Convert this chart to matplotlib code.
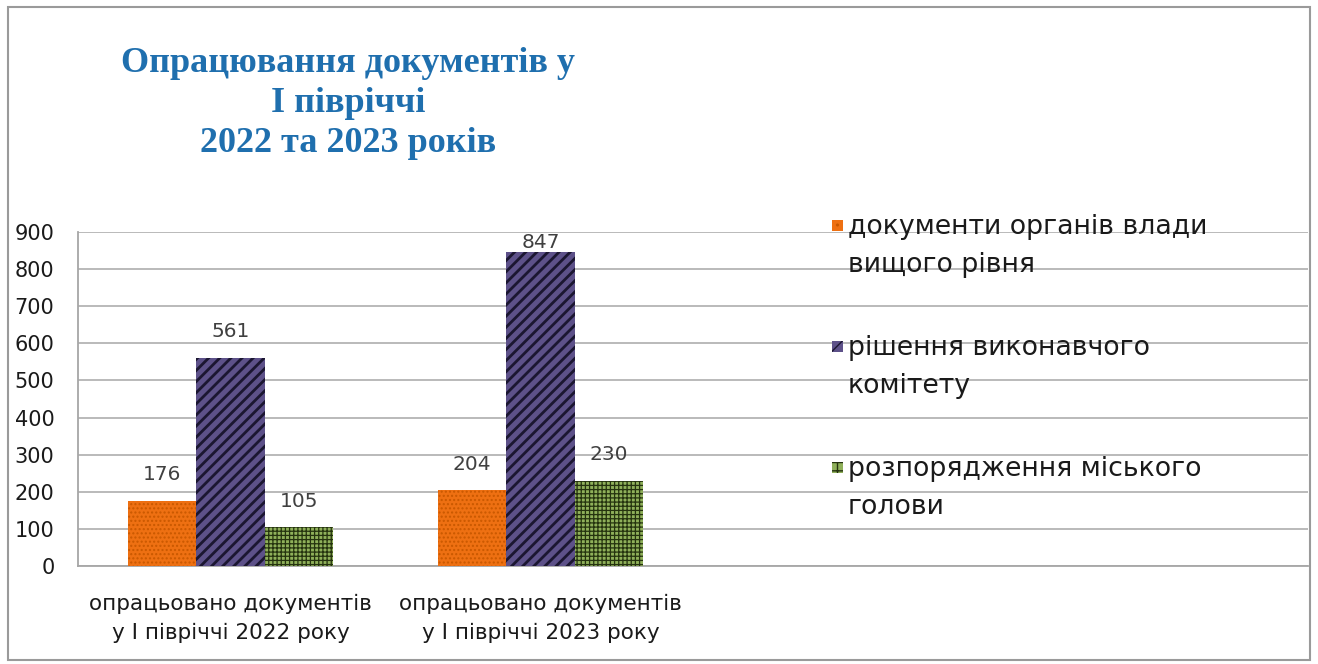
import matplotlib.pyplot as plt
from matplotlib.patches import Rectangle
import numpy as np

# Data
categories = ['опрацьовано документів\nу І півріччі 2022 року',
              'опрацьовано документів\nу І півріччі 2023 року']
series_names = ['документи органів влади\nвищого рівня',
                'рішення виконавчого\nкомітету',
                'розпорядження міського\nголови']
higher_docs = [176, 204]
committee_decisions = [561, 847]
mayor_orders = [105, 230]
y_ticks = [0, 100, 200, 300, 400, 500, 600, 700, 800, 900]

series_values = [higher_docs, committee_decisions, mayor_orders]
face_colors = ['#ee7012', '#5d5189', '#8fb05a']
hatch_colors = ['#c95800', '#1b1631', '#25330f']
hatches = ['....', '///', '++++']
hatch_widths = [1.0, 2.0, 0.9]

plt.rcParams['font.family'] = ['DejaVu Sans']

fig = plt.figure(figsize=(13.18, 6.64), dpi=100)
ax = fig.add_axes([78 / 1318, 98 / 664, 1230 / 1318, 334 / 664])

x = np.arange(len(categories))
width = 0.221
for i, vals in enumerate(series_values):
    pos = x + (i - 1) * width
    with plt.rc_context({'hatch.linewidth': hatch_widths[i]}):
        bars = ax.bar(pos, vals, width, color=face_colors[i], edgecolor=hatch_colors[i],
                      hatch=hatches[i], linewidth=0, zorder=3)
    for b in bars:
        if hasattr(b, 'set_hatch_linewidth'):
            b.set_hatch_linewidth(hatch_widths[i])
    for px, v in zip(pos, vals):
        # Excel keeps the label inside the plot area
        ax.text(px, min(v + 44, 846), str(v), ha='center', va='bottom',
                fontsize=14.5, color='#404040', zorder=4)

ax.set_ylim(0, 900)
ax.set_xlim(-0.492, 1230 / 310 - 0.492)
ax.set_yticks(y_ticks)
ax.set_xticks(x)
ax.set_xticklabels(categories, fontsize=15.5, color='#1a1a1a', linespacing=1.55)
ax.tick_params(axis='y', length=0, pad=17, labelsize=15, labelcolor='#1a1a1a')
ax.tick_params(axis='x', length=0, pad=20)
ax.grid(axis='y', color='#b4b4b4', linewidth=1.3, zorder=0)
for side in ['top', 'right']:
    ax.spines[side].set_visible(False)
for side in ['left', 'bottom']:
    ax.spines[side].set_color('#a6a6a6')
    ax.spines[side].set_linewidth(1.3)

# Legend drawn on the right side, first line aligned with the marker
legend_y = [226, 347, 468]
for i, name in enumerate(series_names):
    yy = 1 - legend_y[i] / 664
    fig.patches.append(Rectangle((832 / 1318, yy - 5 / 664), 11 / 1318, 11 / 664,
                                 transform=fig.transFigure, facecolor=face_colors[i],
                                 edgecolor=hatch_colors[i], hatch=hatches[i][:2],
                                 linewidth=0))
    fig.text(848 / 1318, yy + 12 / 664, name, fontsize=19.3, color='#1a1a1a',
             va='top', ha='left', linespacing=1.58, transform=fig.transFigure)

# Title
fig.text(348 / 1318, 1 - 47 / 664,
         'Опрацювання документів у\nІ півріччі\n2022 та 2023 років',
         ha='center', va='top', fontsize=26, fontweight='bold',
         family='Liberation Serif', color='#1f6fae', linespacing=1.27)

# Chart frame
fig.patches.append(Rectangle((8 / 1318, 4 / 664), 1302 / 1318, 653 / 664,
                             transform=fig.transFigure, fill=False,
                             edgecolor='#9a9a9a', linewidth=1.5))

fig.savefig('out.png', dpi=100)
